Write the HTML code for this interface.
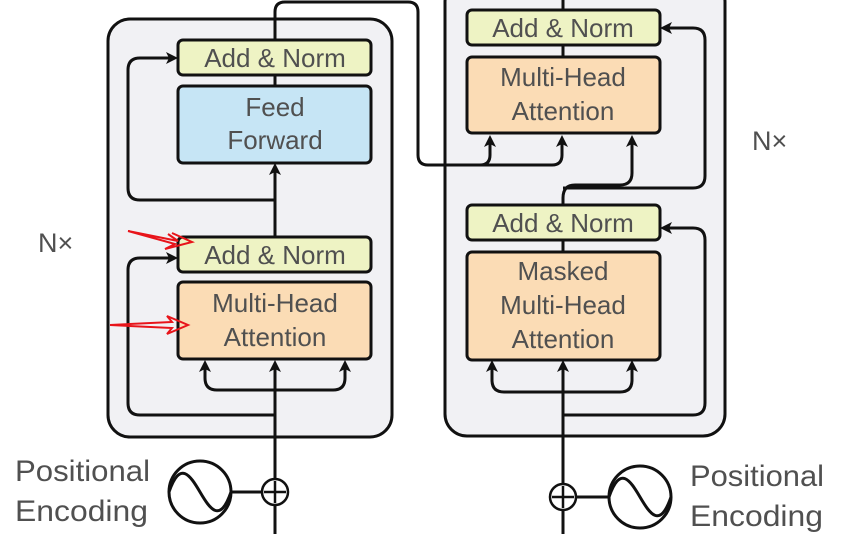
<!DOCTYPE html>
<html><head><style>body{margin:0;background:#fff}svg{display:block}text{font-family:"Liberation Sans",sans-serif;fill:#505050}</style></head><body>
<svg width="846" height="534" viewBox="0 0 846 534" xmlns="http://www.w3.org/2000/svg">
<defs><marker id="a" markerWidth="12" markerHeight="12" refX="9" refY="6" orient="auto" markerUnits="userSpaceOnUse"><path d="M0,0 L12,6 L0,12 L3,6Z" fill="#111"/></marker></defs>
<rect x="0" y="0" width="846" height="534" fill="#fff"/>
<rect x="108" y="19" width="284" height="418" rx="22" fill="#f1f1f4" stroke="#111" stroke-width="3"/>
<rect x="445" y="-20" width="280" height="456" rx="22" fill="#f1f1f4" stroke="#111" stroke-width="3"/>
<g fill="none" stroke="#111" stroke-width="3">
<path d="M275,534 V363" marker-end="url(#a)"/>
<path d="M275,237 V166" marker-end="url(#a)"/>
<path d="M275,86 V75"/>
<path d="M275,40 V12 Q275,2 285,2 H408 Q418,2 418,12 V155 Q418,165 428,165 H480 Q490,165 490,155 V138" marker-end="url(#a)"/>
<path d="M480,165 H552 Q562,165 562,155 V138" marker-end="url(#a)"/>
<path d="M275,200 H140 Q128,200 128,188 V70 Q128,58 140,58 H175" marker-end="url(#a)"/>
<path d="M275,415 H140 Q128,415 128,403 V270 Q128,258 140,258 H175" marker-end="url(#a)"/>
<path d="M275,390 H217 Q205,390 205,378 V363" marker-end="url(#a)"/>
<path d="M275,390 H333 Q345,390 345,378 V363" marker-end="url(#a)"/>
<path d="M563,534 V363" marker-end="url(#a)"/>
<path d="M563,205 V198 Q563,185 575,185 H620 Q632,185 632,173 V138" marker-end="url(#a)"/>
<path d="M563,188 H693 Q705,188 705,176 V40 Q705,28 693,28 H663" marker-end="url(#a)"/>
<path d="M563,415 H693 Q705,415 705,403 V240 Q705,228 693,228 H663" marker-end="url(#a)"/>
<path d="M563,57 V45"/><path d="M563,252 V240"/><path d="M563,10 V0"/>
<path d="M563,392 H504 Q492,392 492,380 V363" marker-end="url(#a)"/>
<path d="M563,392 H620 Q632,392 632,380 V363" marker-end="url(#a)"/>
<circle cx="200" cy="492" r="31"/><path d="M169,492 C180,460 190,475 200,492 S220,524 231,492"/>
<line x1="231" y1="492" x2="262" y2="492"/>
<circle cx="640" cy="497" r="31"/><path d="M609,497 C620,465 630,480 640,497 S660,529 671,497"/>
<line x1="609" y1="497" x2="576" y2="497"/>
</g>
<g stroke="#111" stroke-width="3">
<rect x="178" y="40" width="193" height="35" rx="5" fill="#eef3c4"/>
<rect x="178" y="86" width="193" height="77" rx="5" fill="#c6e5f5"/>
<rect x="178" y="237" width="193" height="35" rx="5" fill="#eef3c4"/>
<rect x="178" y="282" width="193" height="77" rx="5" fill="#fbdcb5"/>
<rect x="467" y="10" width="193" height="35" rx="5" fill="#eef3c4"/>
<rect x="467" y="57" width="193" height="76" rx="5" fill="#fbdcb5"/>
<rect x="467" y="205" width="193" height="35" rx="5" fill="#eef3c4"/>
<rect x="467" y="252" width="193" height="108" rx="5" fill="#fbdcb5"/>
<circle cx="275" cy="492" r="13" fill="#fff" stroke-width="2.5"/>
<circle cx="563" cy="497" r="13" fill="#fff" stroke-width="2.5"/>
<path d="M275,481 V503 M264,492 H286 M563,486 V508 M552,497 H574" stroke-width="2.5"/>
</g>
<g font-size="26" text-anchor="middle">
<text x="275" y="67">Add &amp; Norm</text>
<text x="275" y="116">Feed</text><text x="275" y="149">Forward</text>
<text x="275" y="264">Add &amp; Norm</text>
<text x="275" y="312">Multi-Head</text><text x="275" y="346">Attention</text>
<text x="563" y="37">Add &amp; Norm</text>
<text x="563" y="86">Multi-Head</text><text x="563" y="120">Attention</text>
<text x="563" y="232">Add &amp; Norm</text>
<text x="563" y="280">Masked</text><text x="563" y="314">Multi-Head</text><text x="563" y="348">Attention</text>
</g>
<g font-size="30">
<text x="15" y="481" textLength="135" lengthAdjust="spacingAndGlyphs">Positional</text><text x="15" y="521" textLength="133" lengthAdjust="spacingAndGlyphs">Encoding</text>
<text x="690" y="486" textLength="134" lengthAdjust="spacingAndGlyphs">Positional</text><text x="690" y="526" textLength="133" lengthAdjust="spacingAndGlyphs">Encoding</text>
<text x="38" y="252" font-size="27">N×</text><text x="752" y="150" font-size="27">N×</text>
</g>
<g fill="none" stroke="#e8141a" stroke-width="2">
<path d="M128,231 L178,241 L168,234 M128,231 L175,244 L165,249 L192,242 L172,233"/>
<path d="M110,325 L172,322 L167,316 L188,325 L167,334 L172,328 L110,325"/>
</g>
</svg>
</body></html>
